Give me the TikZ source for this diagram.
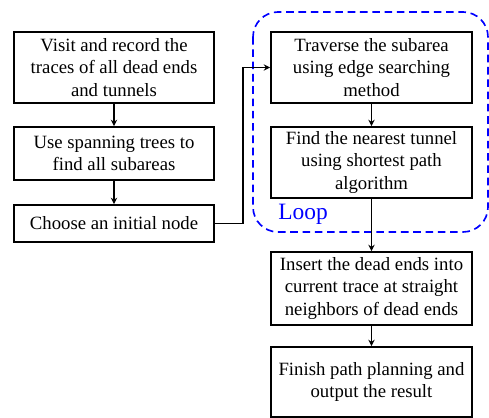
\documentclass[tikz,border=0pt]{standalone}
\usepackage{fontspec}
\setmainfont{Liberation Serif}
\usetikzlibrary{positioning,arrows.meta}

\begin{document}
\begin{tikzpicture}[>={Stealth[length=5.5pt,width=5.5pt]}, font=\fontsize{16}{19.2}\selectfont,
  stepbox/.style={draw, line width=1.5pt, align=center, minimum width=6cm, inner sep=2pt},
  link/.style={->, line width=1.4pt}]
  \useasboundingbox (0,0) rectangle (14.67,-12.54);
  % left column
  \node[stepbox, minimum height=2.13cm] (visit) at (3.42,-2.025) {Visit and record the\\traces of all dead ends\\and tunnels};
  \node[stepbox, minimum height=1.59cm] (span) at (3.42,-4.605) {Use spanning trees to\\find all subareas};
  \node[stepbox, minimum height=1.11cm] (init) at (3.42,-6.705) {Choose an initial node};
  \draw[link] (visit) -- (span);
  \draw[link] (span) -- (init);
  % loop
  \draw[blue, line width=1.4pt, dash pattern=on 6.5pt off 4pt, rounded corners=0.75cm] (7.59,-0.36) rectangle (14.64,-6.96);
  \node[text=blue, font=\fontsize{20}{24}\selectfont] (looptag) at (9.09,-6.42) {Loop};
  \node[stepbox, minimum width=6.03cm, minimum height=2.13cm] (traverse) at (11.145,-2.025) {Traverse the subarea\\using edge searching\\method};
  \node[stepbox, minimum width=6.03cm, minimum height=2.13cm] (nearest) at (11.145,-4.875) {Find the nearest tunnel\\using shortest path\\algorithm};
  \draw[link] (init.east) -- ++(0.84,0) |- (traverse.west);
  \draw[link] (traverse) -- (nearest);
  % right column
  \node[stepbox, minimum width=6.03cm, minimum height=2.19cm] (insert) at (11.145,-8.655) {Insert the dead ends into\\current trace at straight\\neighbors of dead ends};
  \node[stepbox, minimum width=6.03cm, minimum height=2.1cm] (finish) at (11.145,-11.46) {Finish path planning and\\output the result};
  \draw[link] (nearest) -- (insert);
  \draw[link] (insert) -- (finish);
\end{tikzpicture}
\end{document}
